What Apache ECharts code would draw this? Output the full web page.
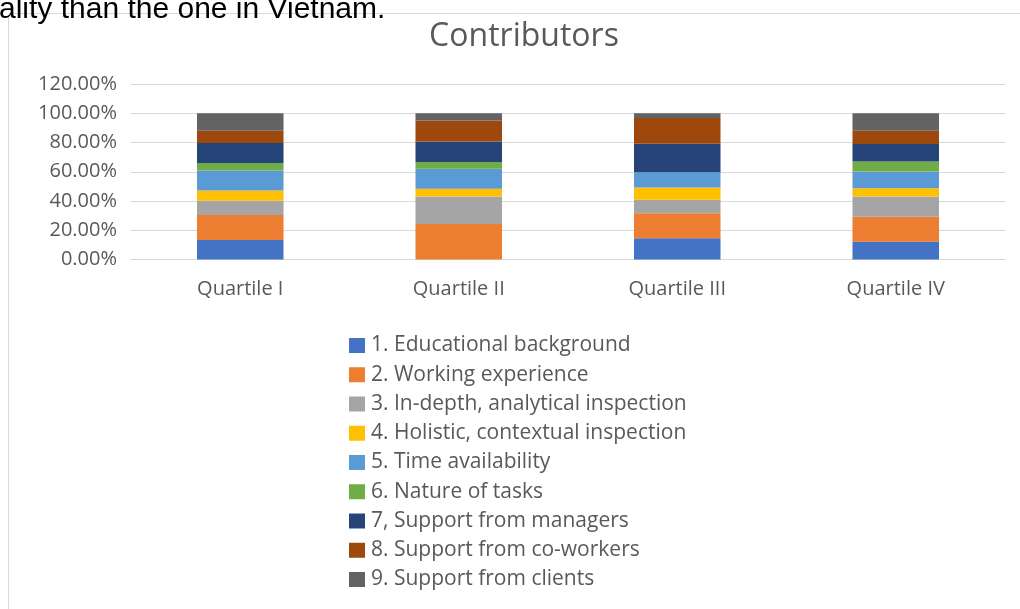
<!DOCTYPE html>
<html>
<head>
<meta charset="utf-8">
<title>Contributors</title>
<script src="https://cdn.jsdelivr.net/npm/echarts@6/dist/echarts.min.js"></script>
<style>
  html, body { margin: 0; padding: 0; background: #ffffff; }
  #chart { width: 1020px; height: 609px; }
</style>
</head>
<body>
<div id="chart"></div>
<script>
// Quartile groups along the x axis
const categories = ['Quartile I', 'Quartile II', 'Quartile III', 'Quartile IV'];

// Share of each contributor per quartile, in percent
const educationalBackground  = [13.4, 0.0, 14.5, 12.2];
const workingExperience      = [17.1, 24.3, 17.1, 17.1];
const inDepthInspection      = [9.6, 18.7, 9.2, 13.7];
const holisticInspection     = [7.0, 5.3, 8.4, 5.8];
const timeAvailability       = [13.7, 13.7, 10.5, 11.3];
const natureOfTasks          = [5.1, 4.6, 0.0, 6.9];
const supportFromManagers    = [13.7, 14.1, 19.4, 11.9];
const supportFromCoworkers   = [8.4, 14.4, 17.6, 9.1];
const supportFromClients     = [12.0, 4.9, 3.3, 12.0];

const seriesNames = [
  '1. Educational background',
  '2. Working experience',
  '3. In-depth, analytical inspection',
  '4. Holistic, contextual inspection',
  '5. Time availability',
  '6. Nature of tasks',
  '7, Support from managers',
  '8. Support from co-workers',
  '9. Support from clients'
];
const seriesValues = [
  educationalBackground, workingExperience, inDepthInspection,
  holisticInspection, timeAvailability, natureOfTasks,
  supportFromManagers, supportFromCoworkers, supportFromClients
];
const palette = ['#4472C4', '#ED7D31', '#A5A5A5', '#FFC000', '#5B9BD5',
                 '#70AD47', '#264478', '#9E480E', '#636363'];

const FONT = '"Open Sans", sans-serif';
const TEXT = '#595959';

const chart = echarts.init(document.getElementById('chart'), null, { renderer: 'canvas' });

chart.setOption({
  animation: false,
  backgroundColor: '#ffffff',
  color: palette,
  graphic: [
    {
      type: 'rect',
      shape: { x: 8.5, y: 13.5, width: 1030, height: 620 },
      style: { fill: 'none', stroke: '#d9d9d9', lineWidth: 1 },
      silent: true
    },
    {
      type: 'text',
      left: -1,
      top: -5,
      style: {
        text: 'ality than the one in Vietnam.',
        fontFamily: '"Liberation Sans", Arial, sans-serif',
        fontSize: 30,
        fill: '#000000'
      },
      silent: true
    }
  ],
  title: {
    text: 'Contributors',
    left: 519,
    top: 16,
    textAlign: 'center',
    textStyle: { fontFamily: FONT, fontSize: 32, fontWeight: 'normal', color: TEXT }
  },
  grid: { left: 131, right: 15, top: 84, bottom: 349.5, containLabel: false },
  legend: {
    orient: 'vertical',
    left: 349,
    top: 335,
    height: 272,
    padding: 0,
    itemWidth: 16,
    itemHeight: 15,
    itemGap: 8.25,
    icon: 'rect',
    data: seriesNames,
    textStyle: { fontFamily: FONT, fontSize: 21, lineHeight: 21, color: TEXT, padding: [0, 0, 0, 1] }
  },
  xAxis: {
    type: 'category',
    data: categories,
    axisLine: { lineStyle: { color: '#d9d9d9', width: 1 } },
    axisTick: { show: false },
    axisLabel: { fontFamily: FONT, fontSize: 20, color: TEXT, margin: 20 }
  },
  yAxis: {
    type: 'value',
    min: 0,
    max: 120,
    interval: 20,
    axisLine: { show: false },
    axisTick: { show: false },
    splitLine: { lineStyle: { color: '#d9d9d9', width: 1 } },
    axisLabel: {
      fontFamily: FONT, fontSize: 20, color: TEXT, margin: 14,
      formatter: v => v.toFixed(2) + '%'
    }
  },
  series: seriesNames.map((name, i) => ({
    name,
    type: 'bar',
    stack: 'total',
    barWidth: '39.6%',
    data: seriesValues[i],
    itemStyle: { color: palette[i] }
  }))
});
</script>
</body>
</html>
